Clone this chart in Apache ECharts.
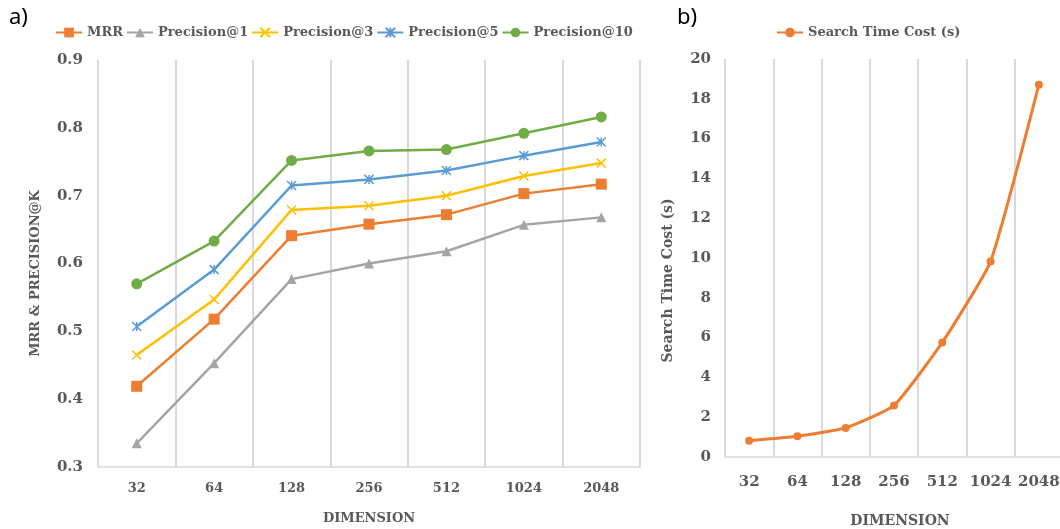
<!DOCTYPE html>
<html>
<head>
<meta charset="utf-8">
<script src="https://cdn.jsdelivr.net/npm/echarts@6/dist/echarts.min.js"></script>
<style>html,body{margin:0;padding:0;background:#fff}#c{width:1060px;height:529px}</style>
</head>
<body>
<div id="c"></div>
<script>
const dimensions = ['32', '64', '128', '256', '512', '1024', '2048'];
const mrr = [0.419, 0.518, 0.641, 0.658, 0.672, 0.703, 0.717];
const precision1 = [0.335, 0.453, 0.577, 0.600, 0.618, 0.657, 0.668];
const precision3 = [0.465, 0.547, 0.679, 0.685, 0.700, 0.729, 0.748];
const precision5 = [0.507, 0.591, 0.715, 0.724, 0.737, 0.759, 0.779];
const precision10 = [0.570, 0.633, 0.752, 0.766, 0.768, 0.792, 0.816];
const searchTime = [0.82, 1.04, 1.46, 2.59, 5.76, 9.83, 18.71];
const leftTicks = [0.3, 0.4, 0.5, 0.6, 0.7, 0.8, 0.9];
const rightTicks = [0, 2, 4, 6, 8, 10, 12, 14, 16, 18, 20];

const FONT = '"DejaVu Serif", serif';
const TXT = '#595959';
const GRIDC = '#d9d9d9';

const chart = echarts.init(document.getElementById('c'), null, {renderer: 'canvas'});

function lineSeries(name, data, color, symbol, size, stroke) {
  return {
    name: name, type: 'line', xAxisIndex: 0, yAxisIndex: 0, data: data,
    symbol: symbol, symbolSize: size, showSymbol: true,
    lineStyle: {color: color, width: 2.5},
    itemStyle: stroke ? {color: color, borderColor: color, borderWidth: 1.5} : {color: color},
    z: 3
  };
}

const xAxisCommon = {
  type: 'category', boundaryGap: true,
  axisTick: {show: false},
  axisLine: {show: true, lineStyle: {color: GRIDC, width: 1.5}},
  splitLine: {show: true, lineStyle: {color: GRIDC, width: 2}},
  nameLocation: 'middle',
  nameTextStyle: {fontFamily: FONT, fontWeight: 'bold', fontSize: 13, color: TXT}
};

chart.setOption({
  animation: false,
  textStyle: {fontFamily: FONT},
  title: [
    {text: 'a)', left: 4, top: 2, textStyle: {fontFamily: '"Noto Sans", sans-serif', fontWeight: 'normal', fontSize: 22, color: '#000'}},
    {text: 'b)', left: 672, top: 2, textStyle: {fontFamily: '"Noto Sans", sans-serif', fontWeight: 'normal', fontSize: 22, color: '#000'}}
  ],
  legend: [
    {
      data: ['MRR', 'Precision@1', 'Precision@3', 'Precision@5', 'Precision@10'],
      left: 50, top: 21, itemWidth: 26, itemHeight: 12, itemGap: 3,
      textStyle: {fontFamily: FONT, fontWeight: 'bold', fontSize: 13, color: TXT}
    },
    {
      data: ['Search Time Cost (s)'],
      left: 771, top: 21, itemWidth: 26, itemHeight: 12,
      textStyle: {fontFamily: FONT, fontWeight: 'bold', fontSize: 13, color: TXT}
    }
  ],
  grid: [
    {left: 98, top: 60, width: 542, height: 407, containLabel: false, outerBoundsMode: 'none'},
    {left: 725, top: 59, width: 338, height: 398, containLabel: false, outerBoundsMode: 'none'}
  ],
  xAxis: [
    Object.assign({}, xAxisCommon, {
      gridIndex: 0, data: dimensions, name: 'DIMENSION', nameGap: 45,
      axisLabel: {fontFamily: FONT, fontWeight: 'bold', fontSize: 13, color: TXT, margin: 15}
    }),
    Object.assign({}, xAxisCommon, {
      gridIndex: 1, data: dimensions, name: 'DIMENSION', nameGap: 57,
      nameTextStyle: {fontFamily: FONT, fontWeight: 'bold', fontSize: 14, color: TXT, padding: [0, 0, 0, 12]},
      axisLabel: {fontFamily: FONT, fontWeight: 'bold', fontSize: 15, color: TXT, margin: 18, interval: 0}
    })
  ],
  yAxis: [
    {
      type: 'value', gridIndex: 0, min: leftTicks[0], max: leftTicks[leftTicks.length - 1], interval: 0.1,
      axisLine: {show: false}, axisTick: {show: false}, splitLine: {show: false},
      axisLabel: {fontFamily: FONT, fontWeight: 'bold', fontSize: 15, color: TXT, margin: 15,
        formatter: v => v.toFixed(1)},
      name: 'MRR & PRECISION@K', nameLocation: 'middle', nameGap: 56,
      nameTextStyle: {fontFamily: FONT, fontWeight: 'bold', fontSize: 13, color: TXT, padding: [0, 20, 0, 0]}
    },
    {
      type: 'value', gridIndex: 1, min: rightTicks[0], max: rightTicks[rightTicks.length - 1], interval: 2,
      axisLine: {show: false}, axisTick: {show: false}, splitLine: {show: false},
      axisLabel: {fontFamily: FONT, fontWeight: 'bold', fontSize: 15, color: TXT, margin: 14},
      name: 'Search Time Cost (s)', nameLocation: 'middle', nameGap: 50,
      nameTextStyle: {fontFamily: FONT, fontWeight: 'bold', fontSize: 14, color: TXT, padding: [0, 45, 0, 0]}
    }
  ],
  series: [
    lineSeries('MRR', mrr, '#ED7D31', 'rect', 11, false),
    lineSeries('Precision@1', precision1, '#A5A5A5', 'triangle', 10, false),
    lineSeries('Precision@3', precision3, '#FFC000', 'path://M0,0L10,10M10,0L0,10', 9, true),
    lineSeries('Precision@5', precision5, '#5B9BD5', 'path://M0,0L10,10M10,0L0,10M5,0L5,10', 9, true),
    lineSeries('Precision@10', precision10, '#70AD47', 'circle', 11, false),
    {
      name: 'Search Time Cost (s)', type: 'line', xAxisIndex: 1, yAxisIndex: 1, data: searchTime,
      symbol: 'circle', symbolSize: 8, lineStyle: {color: '#ED7D31', width: 3},
      itemStyle: {color: '#ED7D31'}, smooth: 0.15
    }
  ]
});
</script>
</body>
</html>
